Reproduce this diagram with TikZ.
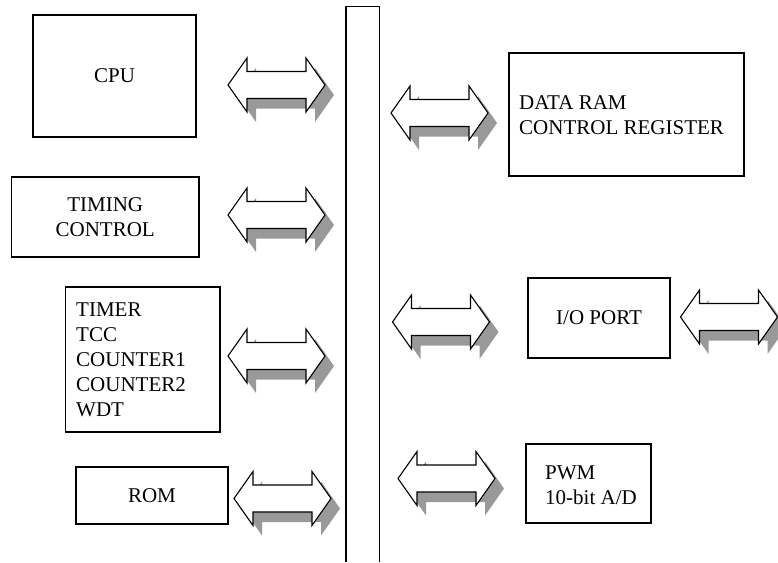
\documentclass[tikz,border=0pt]{standalone}
\usepackage{fontspec}
\setmainfont{Liberation Serif}
\definecolor{shadowgray}{HTML}{999999}
\tikzset{
  box/.style={draw, line width=1.2pt, inner sep=0pt, align=center,
    font=\fontsize{21}{25}\selectfont},
  lbl/.style={inner sep=0pt, align=left, anchor=west,
    font=\fontsize{21}{25}\selectfont},
  dblarrow/.pic={
    \fill[shadowgray, shift={(9,10)}]
      (-48.5,0) -- (-29.5,-27) -- (-29.5,-13.5) -- (29.5,-13.5) -- (29.5,-27) -- (48.5,0)
      -- (29.5,27) -- (29.5,13.5) -- (-29.5,13.5) -- (-29.5,27) -- cycle;
    \draw[fill=white, line width=1.1pt, line join=miter]
      (-48.5,0) -- (-29.5,-27) -- (-29.5,-13.5) -- (29.5,-13.5) -- (29.5,-27) -- (48.5,0)
      -- (29.5,27) -- (29.5,13.5) -- (-29.5,13.5) -- (-29.5,27) -- cycle;
  }
}
\begin{document}
\begin{tikzpicture}[x=1pt, y=-1pt]
\useasboundingbox (0,0) rectangle (778,562);

% bus
\draw[line width=1.2pt] (346,562) -- (346,6.5) -- (379.5,6.5) -- (379.5,562);

% left boxes
\node[box, minimum width=163pt, minimum height=122pt] (cpu) at (114.5,76) {CPU};
\node[box, minimum width=187.6pt, minimum height=80pt] (timing) at (105.2,217) {TIMING\\CONTROL};
\node[box, minimum width=154.5pt, minimum height=145pt] (timer) at (142.75,359.5) {};
\node[lbl] (timertext) at (76,359.5) {TIMER\\TCC\\COUNTER1\\COUNTER2\\WDT};
\node[box, minimum width=152pt, minimum height=57pt] (rom) at (152,495.5) {ROM};

% right boxes
\node[box, minimum width=235pt, minimum height=123pt] (ram) at (626.5,114.5) {};
\node[lbl] (ramtext) at (519,115) {DATA RAM\\CONTROL REGISTER};
\node[box, minimum width=142pt, minimum height=80pt] (io) at (599,318) {I/O PORT};
\node[box, minimum width=125pt, minimum height=79pt] (pwm) at (588.5,483.5) {};
\node[lbl] (pwmtext) at (545,485) {PWM\\10-bit A/D};

% double arrows
\pic (a1) at (276.5,85) {dblarrow};
\pic (a2) at (276.5,215) {dblarrow};
\pic (a3) at (276.5,356) {dblarrow};
\pic (a4) at (282.5,498.5) {dblarrow};
\pic (a5) at (439.5,113) {dblarrow};
\pic (a6) at (441,322) {dblarrow};
\pic (a7) at (729,317) {dblarrow};
\pic (a8) at (446.5,478.5) {dblarrow};
\end{tikzpicture}
\end{document}
